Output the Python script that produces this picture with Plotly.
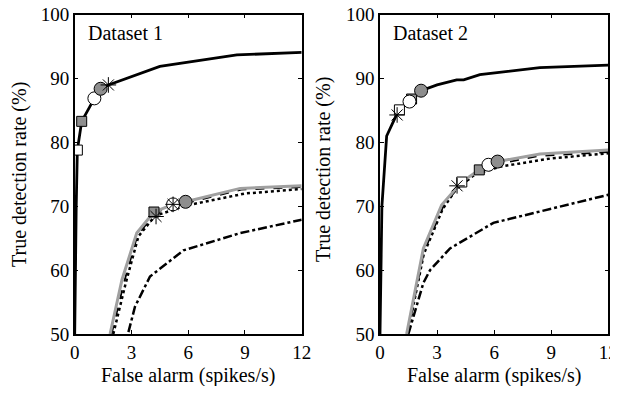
import plotly.graph_objects as go
from plotly.subplots import make_subplots

# ---------------- Data ----------------
# Dataset 1
d1_solid_x = [0, 0.03, 0.08, 0.14, 0.37, 1.04, 1.37, 1.78, 2.75, 4.5, 8.57, 12]
d1_solid_y = [50, 60, 70, 78.8, 83.3, 86.9, 88.4, 89.0, 90.0, 91.9, 93.7, 94.1]
d1_grey_x = [1.87, 2.5, 3.28, 4.19, 5.2, 5.86, 8.75, 12]
d1_grey_y = [50, 58.5, 65.8, 69.1, 70.3, 70.7, 72.8, 73.2]
d1_dash_x = [1.95, 2.6, 3.3, 4.2, 5.2, 5.9, 8.8, 12]
d1_dash_y = [50, 58.0, 65.3, 68.8, 70.1, 70.5, 72.6, 73.0]
d1_dot_x = [2.04, 2.7, 3.37, 4.25, 5.86, 9, 12]
d1_dot_y = [50, 58.0, 65.3, 68.5, 70.1, 72.0, 72.7]
d1_dd_x = [2.84, 3.19, 3.98, 5.75, 8.75, 12]
d1_dd_y = [50.3, 54.3, 59.0, 63.1, 65.8, 67.9]

# Dataset 2
d2_solid_x = [0, 0.1, 0.35, 0.79, 0.91, 1.02, 1.61, 2.16, 3.0, 4.03, 4.4, 5.25, 8.4, 12]
d2_solid_y = [50, 70, 81.0, 84.0, 84.6, 85.1, 86.5, 88.1, 89.0, 89.8, 89.8, 90.6, 91.7, 92.1]
d2_grey_x = [1.40, 2.28, 3.24, 4.2, 4.29, 5.22, 5.70, 6.18, 8.41, 12]
d2_grey_y = [50, 63.4, 70.2, 73.5, 73.8, 75.7, 76.5, 77.0, 78.2, 78.8]
d2_dash_x = [1.45, 2.3, 3.3, 4.1, 5.2, 6.2, 8.4, 12]
d2_dash_y = [50, 62.8, 69.8, 73.0, 75.3, 76.6, 77.9, 78.5]
d2_dot_x = [1.45, 2.3, 3.3, 4.03, 5.0, 6.3, 9.0, 12]
d2_dot_y = [50, 62.5, 69.6, 72.8, 75.0, 76.2, 77.5, 78.3]
d2_dd_x = [1.49, 2.28, 2.63, 3.68, 5.96, 12]
d2_dd_y = [50, 58.0, 60.0, 63.4, 67.4, 71.8]

# Operating-point markers: (x, y, kind)
d1_markers = [
    (0.14, 78.8, "wsq"), (0.37, 83.3, "gsq"), (1.04, 86.9, "wci"),
    (1.37, 88.4, "gci"), (1.78, 89.0, "ast"),
    (4.19, 69.1, "gsq"), (5.2, 70.3, "wci"), (5.2, 70.3, "ast"),
    (5.86, 70.7, "gci"), (4.3, 68.4, "ast"),
]
d2_markers = [
    (0.9, 84.3, "ast"), (1.02, 85.1, "wsq"), (1.55, 86.4, "wci"),
    (1.66, 86.8, "gsq"), (2.16, 88.1, "gci"),
    (4.05, 73.2, "ast"), (4.3, 73.8, "wsq"), (5.22, 75.7, "gsq"),
    (5.70, 76.5, "wci"), (6.18, 77.0, "gci"),
]

x_ticks = [0, 3, 6, 9, 12]
y_ticks = [50, 60, 70, 80, 90, 100]
panel_titles = ["Dataset 1", "Dataset 2"]
x_title = "False alarm (spikes/s)"
y_title = "True detection rate (%)"

# ---------------- Figure ----------------
FONT = "Liberation Serif"
GREY_LINE = "#a0a0a0"
GREY_FILL = "#8e8e8e"

fig = make_subplots(rows=1, cols=2)

marker_styles = {
    "wsq": dict(symbol="square", size=10, color="white", line=dict(color="black", width=1)),
    "gsq": dict(symbol="square", size=10, color=GREY_FILL, line=dict(color="black", width=1)),
    "wci": dict(symbol="circle", size=13, color="white", line=dict(color="black", width=1)),
    "gci": dict(symbol="circle", size=13, color=GREY_FILL, line=dict(color="black", width=1)),
    "ast": dict(symbol="asterisk-open", size=13, color="black", line=dict(color="black", width=1)),
}

def add_panel(col, solid, grey, dash, dot, dd, markers):
    fig.add_trace(go.Scatter(x=dd[0], y=dd[1], mode="lines",
                             line=dict(color="black", width=2.5, dash="dashdot")), row=1, col=col)
    fig.add_trace(go.Scatter(x=dot[0], y=dot[1], mode="lines",
                             line=dict(color="black", width=2.5, dash="dot")), row=1, col=col)
    fig.add_trace(go.Scatter(x=dash[0], y=dash[1], mode="lines",
                             line=dict(color="black", width=1.8, dash="dash")), row=1, col=col)
    fig.add_trace(go.Scatter(x=grey[0], y=grey[1], mode="lines",
                             line=dict(color=GREY_LINE, width=3)), row=1, col=col)
    fig.add_trace(go.Scatter(x=solid[0], y=solid[1], mode="lines",
                             line=dict(color="black", width=2.8)), row=1, col=col)
    for kind in ["wsq", "gsq", "wci", "gci", "ast"]:
        pts = [(mx, my) for mx, my, k in markers if k == kind]
        if pts:
            fig.add_trace(go.Scatter(x=[p[0] for p in pts], y=[p[1] for p in pts],
                                     mode="markers", marker=marker_styles[kind]),
                          row=1, col=col)

add_panel(1, (d1_solid_x, d1_solid_y), (d1_grey_x, d1_grey_y), (d1_dash_x, d1_dash_y),
          (d1_dot_x, d1_dot_y), (d1_dd_x, d1_dd_y), d1_markers)
add_panel(2, (d2_solid_x, d2_solid_y), (d2_grey_x, d2_grey_y), (d2_dash_x, d2_dash_y),
          (d2_dot_x, d2_dot_y), (d2_dd_x, d2_dd_y), d2_markers)

# The page body adds an 8px margin; size the figure so the page does not overflow.
OFF = 8
W, H = 618 - OFF, 394 - 2 * OFF

def px(x):
    return (x - OFF) / W

def py(y):
    return (H - (y - OFF)) / H

x_domains = [(px(74.7), px(301.7)), (px(380.0), px(608.3))]
y_domain = (py(334.0), py(14.7))

axis_common = dict(
    showgrid=False, zeroline=False, showline=True, linecolor="black", linewidth=1.5,
    mirror="ticks", ticks="inside", ticklen=4, tickwidth=1, tickcolor="black",
    tickfont=dict(family=FONT, size=19, color="black"), automargin=False,
    ticklabeloverflow="allow",
)
for i, ax in enumerate(["xaxis", "xaxis2"]):
    fig.layout[ax].update(domain=x_domains[i], range=[0, 12], tickvals=x_ticks,
                          ticktext=[str(v) for v in x_ticks], **axis_common)
for i, ax in enumerate(["yaxis", "yaxis2"]):
    fig.layout[ax].update(domain=y_domain, range=[50, 100], tickvals=y_ticks,
                          ticktext=[str(v) for v in y_ticks], **axis_common)

tfont = dict(family=FONT, size=20, color="black")
annots = []
for i, (x0, x1) in enumerate(x_domains):
    annots.append(dict(text=x_title, x=(x0 + x1) / 2, y=py(375), xref="paper", yref="paper",
                       showarrow=False, font=tfont, xanchor="center", yanchor="middle"))
    annots.append(dict(text=panel_titles[i], x=x0 + 11 / W, y=py(33), xref="paper", yref="paper",
                       showarrow=False, font=tfont, xanchor="left", yanchor="middle"))
annots.append(dict(text=y_title, x=px(20), y=py(175), xref="paper", yref="paper",
                   showarrow=False, textangle=-90, font=tfont,
                   xanchor="center", yanchor="middle"))
annots.append(dict(text=y_title, x=px(323), y=py(170), xref="paper", yref="paper",
                   showarrow=False, textangle=-90, font=tfont,
                   xanchor="center", yanchor="middle"))

fig.update_layout(
    template="none",
    font=dict(family=FONT, size=20, color="black"),
    width=W, height=H, margin=dict(l=0, r=0, t=0, b=0, pad=0),
    paper_bgcolor="white", plot_bgcolor="white", showlegend=False,
    annotations=annots,
)

fig.write_html("out.html")
